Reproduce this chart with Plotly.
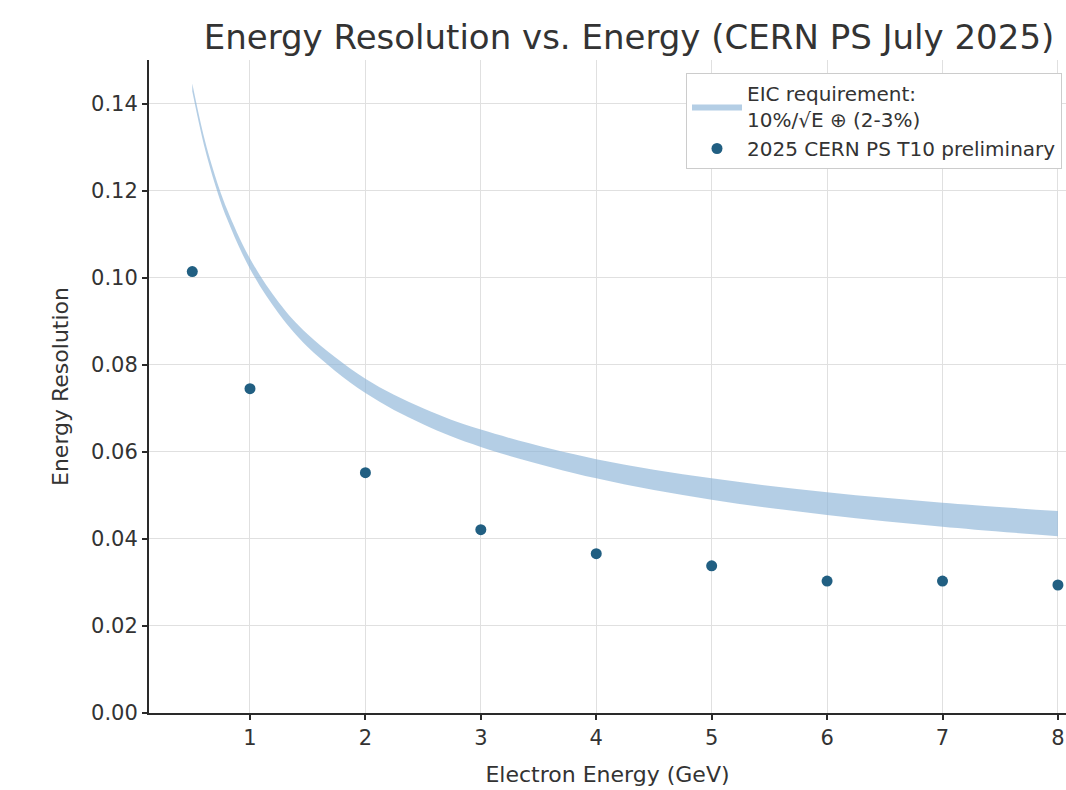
import plotly.graph_objects as go

# ---- data ----
energy_gev = [0.5, 1, 2, 3, 4, 5, 6, 7, 8]
resolution = [0.1014, 0.0745, 0.0552, 0.0421, 0.0366, 0.0338, 0.0303, 0.0303, 0.0294]
resolution_err = [0.0008, 0.0008, 0.0008, 0.0008, 0.0008, 0.0008, 0.0008, 0.0008, 0.0008]

band_energy = [0.5, 0.6, 0.7, 0.8, 1.0, 1.25, 1.5, 2.0, 2.5, 3.0, 4.0, 5.0, 6.0, 7.0, 8.0]
band_lower = [0.1428, 0.1306, 0.1212, 0.1136, 0.1020, 0.0917, 0.0841, 0.0735, 0.0663,
              0.0611, 0.0539, 0.0490, 0.0455, 0.0428, 0.0406]
band_upper = [0.1446, 0.1325, 0.1232, 0.1158, 0.1044, 0.0943, 0.0870, 0.0768, 0.0700,
              0.0651, 0.0583, 0.0539, 0.0507, 0.0483, 0.0464]

x_ticks = [1, 2, 3, 4, 5, 6, 7, 8]
y_ticks = [0.00, 0.02, 0.04, 0.06, 0.08, 0.10, 0.12, 0.14]

title_text = "Energy Resolution vs. Energy (CERN PS July 2025)"
band_label = "EIC requirement:<br>10%/√E ⊕ (2-3%)"
data_label = "2025 CERN PS T10 preliminary"

FONT = "DejaVu Sans"
TXT = "#333333"

fig = go.Figure()
fig.add_trace(go.Scatter(
    x=band_energy, y=band_lower, mode="lines", line=dict(width=0, shape="spline"),
    showlegend=False, hoverinfo="skip"))
fig.add_trace(go.Scatter(
    x=band_energy, y=band_upper, mode="lines", line=dict(width=0, shape="spline"),
    fill="tonexty", fillcolor="rgba(140,180,215,0.65)", name=band_label))
fig.add_trace(go.Scatter(
    x=energy_gev, y=resolution, mode="markers", name=data_label,
    marker=dict(size=11, color="#215f82"),
    error_y=dict(type="data", array=resolution_err, color="#215f82", thickness=1.5, width=0)))

axis_common = dict(
    showline=True, linecolor="#2a2a2a", linewidth=2, mirror=False,
    ticks="outside", ticklen=5, tickwidth=1.5, tickcolor="#2a2a2a",
    showgrid=True, gridcolor="#e0e0e0", gridwidth=1, zeroline=False,
    tickfont=dict(family=FONT, size=21, color=TXT),
)

fig.update_layout(
    width=1066, height=790,
    margin=dict(l=149, r=0, t=60, b=77, autoexpand=False),
    paper_bgcolor="white", plot_bgcolor="white",
    title=dict(text=title_text, x=629 / 1066, xref="container", xanchor="center",
               y=1 - 37 / 790, yref="container", yanchor="middle",
               font=dict(family=FONT, size=34, color=TXT)),
    xaxis=dict(range=[0.125, 8.07], tickvals=x_ticks,
               title=dict(text="Electron Energy (GeV)", standoff=17,
                          font=dict(family=FONT, size=22, color=TXT)),
               **axis_common),
    yaxis=dict(range=[0, 0.15], tickvals=y_ticks, tickformat=".2f",
               title=dict(text="Energy Resolution", standoff=16,
                          font=dict(family=FONT, size=22, color=TXT)),
               **axis_common),
    legend=dict(x=(686 - 149) / 917, y=(713 - 73) / 653, xanchor="left", yanchor="top",
                traceorder="normal", itemwidth=50,
                bgcolor="white", bordercolor="#cccccc", borderwidth=1,
                font=dict(family=FONT, size=20, color=TXT)),
)

fig.write_html("out.html")
